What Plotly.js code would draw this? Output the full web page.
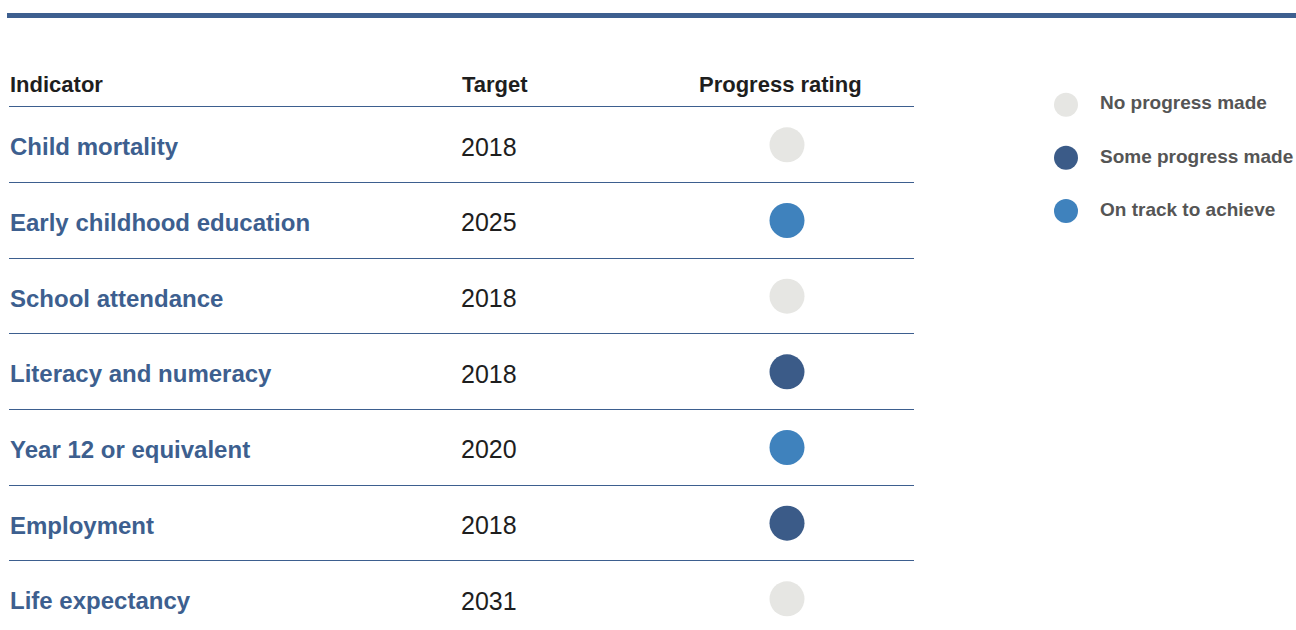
<!DOCTYPE html>
<html>
<head>
<meta charset="utf-8">
<script src="https://cdn.plot.ly/plotly-3.0.1.min.js"></script>
<style>html,body{margin:0;padding:0;background:#fff;}#chart{width:1296px;height:630px;}</style>
</head>
<body>
<div id="chart"></div>
<script>
// ---- data ----
const indicators = ["Child mortality", "Early childhood education", "School attendance", "Literacy and numeracy", "Year 12 or equivalent", "Employment", "Life expectancy"];
const targets = ["2018", "2025", "2018", "2018", "2020", "2018", "2031"];
const ratings = ["No progress made", "On track to achieve", "No progress made", "Some progress made", "On track to achieve", "Some progress made", "No progress made"];
const ratingLevels = ["No progress made", "Some progress made", "On track to achieve"];
const headers = ["Indicator", "Target", "Progress rating"];

// ---- style ----
const ratingColors = {"No progress made": "#e6e6e3", "Some progress made": "#3b5b88", "On track to achieve": "#3f82bd"};
const BLUE = "#3d5f8f";
const W = 1296, H = 630;
const COL_TARGET = 460, COL_RATING = 787;
const FONT = "Liberation Sans, Arial, sans-serif";

const traces = [
  {
    type: "scatter", mode: "markers", x: indicators.map(() => COL_RATING), y: indicators,
    marker: {size: 35, color: ratings.map(r => ratingColors[r]), line: {width: 0}},
    text: ratings, hoverinfo: "text", showlegend: false, cliponaxis: false
  },
  {
    type: "scatter", mode: "markers", x: ratingLevels.map(() => 1066), y: ratingLevels,
    xaxis: "x2", yaxis: "y2",
    marker: {size: 24, color: ratingLevels.map(r => ratingColors[r]), line: {width: 0}},
    hoverinfo: "skip", showlegend: false, cliponaxis: false
  },
  {
    type: "scatter", mode: "text", x: ratingLevels.map(() => 1100), y: ratingLevels,
    xaxis: "x2", yaxis: "y2", text: ratingLevels, textposition: "middle right",
    textfont: {family: FONT, size: 19, color: "#555555", weight: 700},
    hoverinfo: "skip", showlegend: false, cliponaxis: false
  }
];

const headerX = [9, COL_TARGET + 1, 780];
const headerAnchor = ["left", "left", "center"];
const annotations = headers.map((h, i) => ({
  text: h, xref: "x", yref: "paper", x: headerX[i], y: 1 - 85 / H,
  xanchor: headerAnchor[i], yanchor: "middle", showarrow: false,
  font: {family: FONT, size: 22, color: "#1e1e1e", weight: 700}, borderpad: 0
})).concat(indicators.map((ind, i) => ({
  text: targets[i], xref: "x", yref: "y", x: COL_TARGET, y: ind, yshift: -2,
  xanchor: "left", yanchor: "middle", showarrow: false,
  font: {family: FONT, size: 25, color: "#1e1e1e"}, borderpad: 0
})));

const layout = {
  width: W, height: H,
  margin: {l: 0, r: 0, t: 0, b: 0, pad: 0},
  paper_bgcolor: "#fff", plot_bgcolor: "rgba(0,0,0,0)",
  showlegend: false,
  xaxis: {domain: [9 / W, 914 / W], range: [9, 914], visible: false, fixedrange: true},
  yaxis: {
    type: "category", categoryarray: indicators, categoryorder: "array",
    range: [6.412, -1.914], tickson: "boundaries", ticks: "", showgrid: true,
    gridcolor: BLUE, gridwidth: 1.2, zeroline: false, showline: false,
    ticklabelposition: "inside", ticklabelstandoff: -2, ticklabelshift: -2,
    tickfont: {family: FONT, size: 24, color: BLUE, weight: 700}, fixedrange: true
  },
  xaxis2: {domain: [1030 / W, 1], range: [1030, 1296], visible: false, anchor: "y2", fixedrange: true},
  yaxis2: {
    domain: [0, 1], anchor: "x2", type: "category", categoryarray: ratingLevels, categoryorder: "array",
    range: [9.887, -1.97], visible: false, fixedrange: true
  },
  shapes: [{type: "line", xref: "paper", yref: "paper", x0: 7 / W, x1: 1, y0: 1 - 15.5 / H, y1: 1 - 15.5 / H,
    line: {color: BLUE, width: 5}}],
  annotations: annotations
};

Plotly.newPlot("chart", traces, layout, {displayModeBar: false});
</script>
</body>
</html>
